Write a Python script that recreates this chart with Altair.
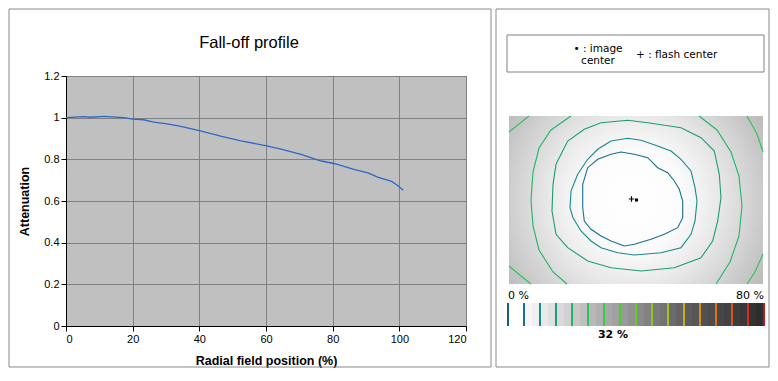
import altair as alt
import pandas as pd

# ---------------- data ----------------
radial_pos = [0, 5.2, 7.2, 11.3, 17.3, 20, 23.3, 26.3, 30.4, 34.4, 40, 46.4, 52.5,
              60.2, 64.5, 70.5, 76.6, 80.4, 86.6, 90.6, 93.7, 97.7, 99.2, 101.2]
attenuation = [1.000, 1.005, 1.002, 1.006, 1.000, 0.993, 0.990, 0.979, 0.970, 0.958,
               0.938, 0.911, 0.889, 0.865, 0.849, 0.824, 0.792, 0.780, 0.751, 0.735,
               0.713, 0.694, 0.678, 0.652]

x_ticks = [0, 20, 40, 60, 80, 100, 120]
y_ticks = [0, 0.2, 0.4, 0.6, 0.8, 1.0, 1.2]

# colour bar levels (%) and their contour colours
levels = [0, 5, 10, 15, 20, 25, 30, 35, 40, 45, 50, 55, 60, 65, 70, 75, 80]
level_colors = ["#1b5e7c", "#1a6e92", "#1a8a8c", "#1c9c7a", "#22b468", "#2cc456",
                "#34cc44", "#48d030", "#5ccf24", "#88c820", "#a8c01e", "#c8ae1e",
                "#d4901e", "#e0701e", "#e0501e", "#dc2a1e", "#c01818"]
bar_lo = [0, 2.5, 5, 7.5, 10, 12.5, 15, 17.5, 20, 22.5, 25, 27.5, 30, 32.5, 35, 37.5,
          40, 42.5, 45, 47.5, 50, 52.5, 55, 57.5, 60, 62.5, 65, 67.5, 70, 72.5, 75, 77.5]
bar_gray = [0, 0, 4, 6, 9, 12, 15, 18, 22, 25, 28, 31, 34, 37, 40, 43,
            46, 49, 52, 55, 58, 61, 64, 66, 68, 70, 72, 74, 76, 78, 80, 82]

# contour lines in image pixel coordinates (image 254 x 168, y downwards)
contour_level = [5, 10, 15, 20, 20, 25, 25, 25, 25]
contour_x = [
    [73.7, 78.7, 88.7, 102, 112, 125.3, 138.7, 148.7, 158.7, 165.3, 170.3, 173.7, 173.7,
     168.7, 155.3, 142, 125.3, 115.3, 102, 92, 82, 75.3, 73.7, 73.7],
    [78.7, 88.7, 102, 118.7, 132, 148.7, 162, 172, 182, 186, 188, 186, 182, 172, 152,
     125.3, 108.7, 92, 82, 72, 64, 61, 62, 68.7, 78.7],
    [47, 58.7, 75.3, 92, 118.7, 138.7, 172, 192, 205.3, 210.3, 212, 208.7, 203.7, 192,
     165.3, 132, 102, 78.7, 58.7, 47, 43, 44, 47],
    [62, 42, 30, 24, 22, 24, 30, 44, 58],
    [190, 208, 222, 230, 233, 230, 221, 207],
    [20, 10, 0],
    [0, 12, 22],
    [238, 248, 254],
    [254, 246, 238],
]
contour_y = [
    [68.3, 51.7, 43.3, 38.3, 36, 38.3, 41.7, 51.7, 56.7, 65, 73.3, 85, 101.7, 111.7,
     118.3, 123.3, 128.3, 130, 125, 120, 113.3, 105, 91.7, 68.3],
    [43.3, 33.3, 25, 22.3, 24.3, 30, 35, 43.3, 55, 71.7, 85, 105, 118.3, 131.7, 136.7,
     139, 136.7, 131.7, 125, 115, 101.7, 91.7, 75, 58.3, 43.3],
    [48.3, 25, 13.3, 6.7, 4.3, 6.7, 11.7, 21.7, 35, 58.3, 81.7, 105, 125, 141.7, 151.7,
     155, 151.7, 145, 131.7, 118.3, 95, 68.3, 48.3],
    [0, 14, 32, 56, 84, 110, 134, 156, 168],
    [0, 14, 36, 60, 90, 120, 146, 168],
    [0, 8, 16],
    [150, 160, 168],
    [0, 18, 36],
    [138, 156, 168],
]
image_center = [127.5, 84]
flash_center = [122.5, 83]

# ---------------- tables ----------------
df_profile = pd.DataFrame({"pos": radial_pos, "att": attenuation})
rows = []
for k, (xs, ys) in enumerate(zip(contour_x, contour_y)):
    for i, (a, b) in enumerate(zip(xs, ys)):
        rows.append({"seg": k, "i": i, "ix": a, "iy": b, "level": contour_level[k]})
df_contours = pd.DataFrame(rows)
df_bar = pd.DataFrame({"lo": bar_lo, "hi": [v + 2.5 for v in bar_lo], "g": bar_gray})
df_ticks = pd.DataFrame({"level": levels})
df_img = pd.DataFrame({"x0": [0], "x1": [254], "y0": [0], "y1": [168]})
df_icenter = pd.DataFrame({"ix": [image_center[0]], "iy": [image_center[1]]})
df_fcenter = pd.DataFrame({"ix": [flash_center[0]], "iy": [flash_center[1]]})
one = pd.DataFrame({"a": [0]})

FONT = "Liberation Sans"
FONT2 = "DejaVu Sans"

IX = alt.Scale(domain=[0, 254], range=[443, 697], nice=False, zero=False)
IY = alt.Scale(domain=[0, 168], range=[40, 208], nice=False, zero=False)
LV = alt.Scale(domain=[0, 80], range=[442, 698], nice=False, zero=False)

# ---------------- left panel ----------------
profile = alt.Chart(df_profile).mark_line(color="#2f66c8", strokeWidth=1.3).encode(
    x=alt.X("pos:Q", scale=alt.Scale(domain=[0, 120], nice=False),
            axis=alt.Axis(values=x_ticks, title="Radial field position (%)", titlePadding=10)),
    y=alt.Y("att:Q", scale=alt.Scale(domain=[0, 1.2], nice=False),
            axis=alt.Axis(values=y_ticks, format="~g", title="Attenuation", titlePadding=12)),
)

frame_left = alt.Chart(one).mark_rect(fill="white", fillOpacity=0, stroke="#8a8a8a", strokeWidth=1).encode(
    x=alt.value(-57), x2=alt.value(425), y=alt.value(-67), y2=alt.value(291))
frame_right = alt.Chart(one).mark_rect(fill="white", fillOpacity=0, stroke="#8a8a8a", strokeWidth=1).encode(
    x=alt.value(430), x2=alt.value(703), y=alt.value(-67), y2=alt.value(291))
title = alt.Chart(one).mark_text(text="Fall-off profile", font=FONT, fontSize=16.5,
                                 align="center", baseline="alphabetic", color="black").encode(
    x=alt.value(183), y=alt.value(-28))

# ---------------- right panel ----------------
legend_box = alt.Chart(one).mark_rect(fill="white", fillOpacity=0, stroke="#808080", strokeWidth=1).encode(
    x=alt.value(441), x2=alt.value(698), y=alt.value(-41), y2=alt.value(-4))
leg1 = alt.Chart(one).mark_text(text="\u2022 : image", font=FONT2, fontSize=10.5, align="center",
                                baseline="middle", color="black").encode(x=alt.value(532), y=alt.value(-27))
leg2 = alt.Chart(one).mark_text(text="center", font=FONT2, fontSize=10.5, align="center",
                                baseline="middle", color="black").encode(x=alt.value(532), y=alt.value(-15))
leg3 = alt.Chart(one).mark_text(text="+ : flash center", font=FONT2, fontSize=10.5, align="left",
                                baseline="middle", color="black").encode(x=alt.value(570), y=alt.value(-21))

grad = alt.Gradient(
    gradient="radial",
    stops=[alt.GradientStop(color="#ffffff", offset=0),
           alt.GradientStop(color="#fcfcfc", offset=0.25),
           alt.GradientStop(color="#e8e8e8", offset=0.45),
           alt.GradientStop(color="#cdcdcd", offset=0.66),
           alt.GradientStop(color="#a8a8a8", offset=0.95),
           alt.GradientStop(color="#a4a4a4", offset=1)],
    x1=0.49, y1=0.5, r1=0, x2=0.49, y2=0.5, r2=0.75)
image = alt.Chart(df_img).mark_rect(color=grad).encode(
    x=alt.X("x0:Q", scale=IX, axis=None), x2="x1:Q",
    y=alt.Y("y0:Q", scale=IY, axis=None), y2="y1:Q")

contours = alt.Chart(df_contours).mark_line(strokeWidth=1.1, interpolate="linear").encode(
    x=alt.X("ix:Q", scale=IX, axis=None),
    y=alt.Y("iy:Q", scale=IY, axis=None),
    detail="seg:N",
    order="i:Q",
    color=alt.Color("level:O", scale=alt.Scale(domain=levels, range=level_colors), legend=None),
)

flash_mark = alt.Chart(df_fcenter).mark_point(shape="M-1,0L1,0M0,-1L0,1", size=30, filled=False,
                                              stroke="black", strokeWidth=1.2, opacity=1).encode(
    x=alt.X("ix:Q", scale=IX, axis=None), y=alt.Y("iy:Q", scale=IY, axis=None))
img_mark = alt.Chart(df_icenter).mark_point(shape="square", size=9, filled=True,
                                            color="black", opacity=1).encode(
    x=alt.X("ix:Q", scale=IX, axis=None), y=alt.Y("iy:Q", scale=IY, axis=None))

bar = alt.Chart(df_bar).mark_rect().encode(
    x=alt.X("lo:Q", scale=LV, axis=None), x2="hi:Q",
    y=alt.value(227), y2=alt.value(250),
    color=alt.Color("g:Q", scale=alt.Scale(domain=[0, 85], range=["#ffffff", "#262626"],
                                           interpolate="rgb"), legend=None),
)
bar_ticks = alt.Chart(df_ticks).mark_rule(strokeWidth=2).encode(
    x=alt.X("level:Q", scale=LV, axis=None),
    y=alt.value(227), y2=alt.value(250),
    color=alt.Color("level:O", scale=alt.Scale(domain=levels, range=level_colors), legend=None),
)
lab0 = alt.Chart(one).mark_text(text="0 %", font=FONT2, fontSize=11, align="left",
                                baseline="alphabetic", color="black").encode(x=alt.value(442), y=alt.value(223))
lab80 = alt.Chart(one).mark_text(text="80 %", font=FONT2, fontSize=11, align="right",
                                 baseline="alphabetic", color="black").encode(x=alt.value(698), y=alt.value(223))
lab32 = alt.Chart(one).mark_text(text="32 %", font=FONT2, fontSize=11, fontWeight="bold", align="center",
                                 baseline="alphabetic", color="black").encode(x=alt.value(547), y=alt.value(262))

chart = alt.layer(
    frame_left, frame_right, title, profile,
    legend_box, leg1, leg2, leg3,
    image, contours, flash_mark, img_mark,
    bar, bar_ticks, lab0, lab80, lab32,
).resolve_scale(x="independent", y="independent", color="independent").properties(
    width=400, height=250, padding=0, background="white"
).configure_view(
    fill="#c0c0c0", stroke="#808080", strokeWidth=1
).configure_axis(
    domainColor="black", tickColor="black", tickSize=5, labelFont=FONT, labelFontSize=11,
    labelColor="black", labelPadding=2, gridColor="#808080", gridWidth=1,
    titleFont=FONT, titleFontSize=12.5, titleFontWeight="bold", titleColor="black",
)

chart.save("out.html", embed_options={"renderer": "svg", "actions": False})
